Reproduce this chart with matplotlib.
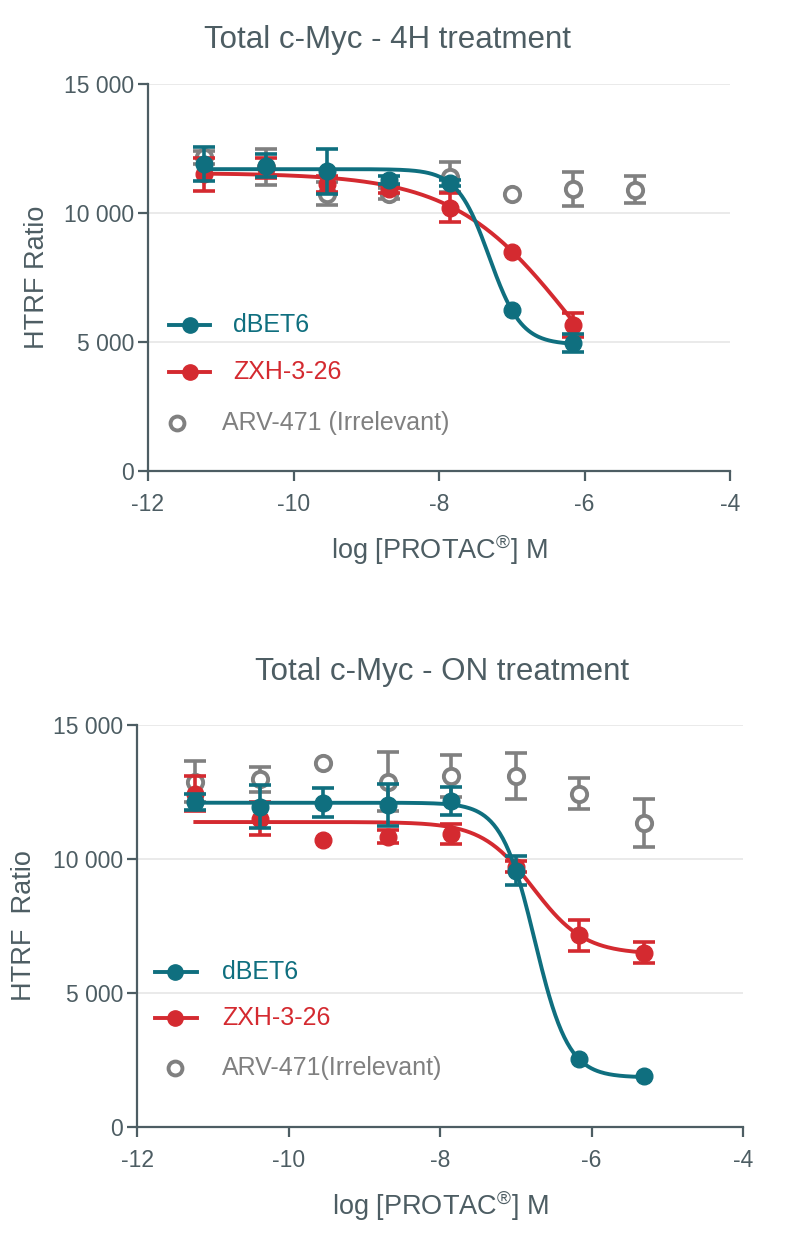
import numpy as np
import matplotlib
matplotlib.use("Agg")
import matplotlib.pyplot as plt

# ---------------- data ----------------
log_conc = [-11.23, -10.38, -9.54, -8.69, -7.85, -7.00, -6.16, -5.31]

# 4H treatment
dbet6_4h = [11900, 11840, 11620, 11290, 11160, 6240, 4950]
dbet6_4h_err = [650, 450, 870, 150, 120, 0, 350]
zxh_4h = [11500, 11750, 11130, 10940, 10200, 8490, 5660]
zxh_4h_err = [650, 400, 300, 150, 560, 0, 450]
arv_4h = [12160, 11800, 10750, 10750, 11390, 10750, 10940, 10900]
arv_4h_err = [250, 700, 450, 200, 580, 0, 650, 520]

# ON treatment
dbet6_on = [12130, 11950, 12100, 12010, 12160, 9570, 2520, 1900]
dbet6_on_err = [300, 800, 540, 780, 530, 530, 0, 0]
zxh_on = [12440, 11510, 10710, 10830, 10930, 9720, 7150, 6510]
zxh_on_err = [650, 620, 0, 250, 370, 200, 580, 400]
arv_on = [12880, 12970, 13590, 12880, 13090, 13100, 12440, 11330]
arv_on_err = [770, 470, 0, 1100, 780, 850, 580, 900]

# 4PL fit parameters: top, bottom, logIC50, hill
fit_dbet6_4h = [11700, 4900, -7.31, 1.97]
fit_zxh_4h = [11550, 0, -6.15, 0.53]
fit_dbet6_on = [12100, 1850, -6.75, 1.96]
fit_zxh_on = [11380, 6450, -6.77, 1.28]

titles = ["Total c-Myc - 4H treatment", "Total c-Myc - ON treatment"]
series_names = ["dBET6", "ZXH-3-26"]
arv_names = ["ARV-471 (Irrelevant)", "ARV-471(Irrelevant)"]
ylabels = ["HTRF Ratio", "HTRF  Ratio"]
xticks = [-12, -10, -8, -6, -4]
yticks = [0, 5000, 10000, 15000]
ytick_labels = ["0", "5 000", "10 000", "15 000"]

# ---------------- style ----------------
fam = "Liberation Sans"
plt.rcParams['font.family'] = [fam, 'DejaVu Sans']
plt.rcParams['mathtext.fontset'] = 'custom'
plt.rcParams['mathtext.rm'] = fam
plt.rcParams['mathtext.it'] = fam

TEAL = "#0f6f7f"
RED = "#d42a30"
GREY = "#808080"
AXC = "#4d5d63"
GRID = "#e6e6e6"


def fourpl(x, p):
    top, bot, c, h = p
    return bot + (top - bot) / (1 + 10 ** ((np.asarray(x) - c) * h))


fig = plt.figure(figsize=(8, 12.6), dpi=100)
ax1 = fig.add_axes([148 / 800, 1 - 471 / 1260, 582 / 800, 387 / 1260])
ax2 = fig.add_axes([137 / 800, 1 - 1127 / 1260, 606 / 800, 402 / 1260])

panels = [
    (ax1, dbet6_4h, dbet6_4h_err, zxh_4h, zxh_4h_err, arv_4h, arv_4h_err,
     fit_dbet6_4h, fit_zxh_4h),
    (ax2, dbet6_on, dbet6_on_err, zxh_on, zxh_on_err, arv_on, arv_on_err,
     fit_dbet6_on, fit_zxh_on),
]

# legend geometry in axes fractions (line x0, x1, marker x, text x, rows y)
leg_geom = [
    dict(x0=0.036, x1=0.107, xm=0.072, xt=0.146, xa=0.050, xat=0.127,
         rows=[0.377, 0.256, 0.124]),
    dict(x0=0.030, x1=0.099, xm=0.063, xt=0.140, xa=0.063, xat=0.140,
         rows=[0.386, 0.271, 0.147]),
]
# right edge (in pixels) of the rotated y label
ylabel_x = [(50 - 148) / 582, (37 - 137) / 606]

for i, (ax, d, de, z, ze, a, ae, fd, fz) in enumerate(panels):
    ax.set_xlim(-12, -4)
    ax.set_ylim(0, 15000)
    for yv in yticks[1:]:
        ax.axhline(yv, color=GRID, lw=1.2, zorder=0)
    for s in ["top", "right"]:
        ax.spines[s].set_visible(False)
    for s in ["left", "bottom"]:
        ax.spines[s].set_color(AXC)
        ax.spines[s].set_linewidth(1.6)
    ax.set_xticks(xticks)
    ax.set_xticklabels([str(t) for t in xticks])
    ax.set_yticks(yticks)
    ax.set_yticklabels(ytick_labels)
    ax.tick_params(direction='out', length=7, width=1.6, color=AXC,
                   labelcolor=AXC, labelsize=16.5)
    ax.tick_params(axis='x', pad=9)
    ax.tick_params(axis='y', pad=3)

    # ARV-471 (open circles)
    xa = log_conc[:len(a)]
    ea = np.array(ae, dtype=float)
    m = ea > 0
    ax.errorbar(np.array(xa)[m], np.array(a)[m], yerr=ea[m], fmt='none',
                ecolor=GREY, elinewidth=2.6, capsize=8, capthick=2.6, zorder=2)
    ax.plot(xa, a, 'o', ms=11, mfc='white', mec=GREY, mew=2.8, zorder=3)

    for vals, errs, fit, col, zb in [(z, ze, fz, RED, 4), (d, de, fd, TEAL, 6)]:
        xv = np.array(log_conc[:len(vals)])
        ev = np.array(errs, dtype=float)
        m = ev > 0
        ax.errorbar(xv[m], np.array(vals)[m], yerr=ev[m], fmt='none',
                    ecolor=col, elinewidth=2.6, capsize=8, capthick=2.6, zorder=zb)
        xx = np.linspace(xv[0], xv[-1], 300)
        ax.plot(xx, fourpl(xx, fit), color=col, lw=2.8, zorder=zb + 0.5)
        ax.plot(xv, vals, 'o', ms=12, color=col, zorder=zb + 1)

    ax.set_ylabel(ylabels[i], fontsize=19.5, color=AXC)
    ax.yaxis.set_label_coords(ylabel_x[i], 0.5)
    ax.set_xlabel(r"log [PROTAC$^{\circledR}$] M", fontsize=19.5, color=AXC,
                  labelpad=12)

    # manual legend
    g = leg_geom[i]
    T = ax.transAxes
    for (col, name), yr in zip([(TEAL, series_names[0]), (RED, series_names[1])],
                               g['rows'][:2]):
        ax.plot([g['x0'], g['x1']], [yr, yr], color=col, lw=2.8, transform=T,
                clip_on=False, zorder=10)
        ax.plot([g['xm']], [yr], 'o', ms=11, color=col, transform=T,
                clip_on=False, zorder=11)
        ax.text(g['xt'], yr, name, color=col, fontsize=18, va='center',
                ha='left', transform=T)
    yr = g['rows'][2]
    ax.plot([g['xa']], [yr], 'o', ms=10, mfc='white', mec=GREY, mew=2.8,
            transform=T, clip_on=False, zorder=11)
    ax.text(g['xat'], yr, arv_names[i], color=GREY, fontsize=18, va='center',
            ha='left', transform=T)

fig.text(388 / 800, 1 - 40 / 1260, titles[0], ha='center', va='center',
         fontsize=22.5, color=AXC)
fig.text(442 / 800, 1 - 672 / 1260, titles[1], ha='center', va='center',
         fontsize=22.5, color=AXC)

fig.savefig("out.png", dpi=100)
